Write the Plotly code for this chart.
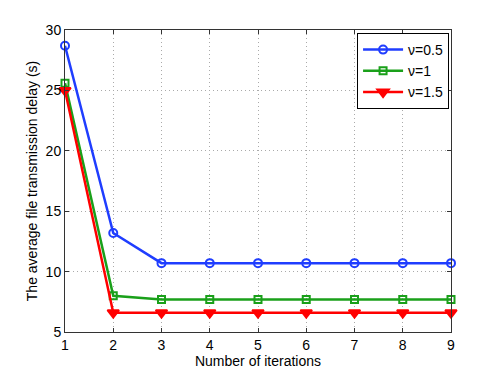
import plotly.graph_objects as go

iterations = [1, 2, 3, 4, 5, 6, 7, 8, 9]
delay_nu05 = [28.7, 13.2, 10.7, 10.7, 10.7, 10.7, 10.7, 10.7, 10.7]
delay_nu1 = [25.6, 8.0, 7.7, 7.7, 7.7, 7.7, 7.7, 7.7, 7.7]
delay_nu15 = [25.0, 6.6, 6.6, 6.6, 6.6, 6.6, 6.6, 6.6, 6.6]

series = [
    ("ν=0.5", delay_nu05, "#1f3dff", "circle-open", 8),
    ("ν=1", delay_nu1, "#1aa01a", "square-open", 7),
    ("ν=1.5", delay_nu15, "#ff0000", "triangle-down", 10),
]

fig = go.Figure()
for name, ys, color, sym, size in series:
    fig.add_trace(go.Scatter(
        x=iterations, y=ys, name=name, mode="lines+markers",
        line=dict(color=color, width=2.5),
        marker=dict(symbol=sym, size=size, color=color,
                    line=dict(color=color, width=2)),
        cliponaxis=False,
    ))

axis_common = dict(
    showline=True, linecolor="#333", linewidth=1, mirror="ticks",
    ticks="inside", ticklen=4, tickcolor="#333",
    showgrid=True, gridcolor="#aaaaaa", griddash="1px,3px", gridwidth=1,
    zeroline=False, tickfont=dict(size=14, color="black"), automargin=False,
)

fig.update_xaxes(range=[1, 9], dtick=1, title=dict(text="Number of iterations", font=dict(size=14), standoff=2),
                 **axis_common)
fig.update_yaxes(range=[5, 30], dtick=5, title=dict(text="The average file transmission delay (s)", font=dict(size=14), standoff=4),
                 **axis_common)

# the page adds an 8px body margin, so the figure is sized to fit the window
fig.update_layout(
    width=490, height=367,
    margin=dict(l=57, r=47, t=22, b=43),
    paper_bgcolor="white", plot_bgcolor="white",
    font=dict(family="Liberation Sans, Arial, sans-serif", color="black"),
    legend=dict(x=0.995, y=0.99, xanchor="right", yanchor="top",
                bordercolor="black", borderwidth=1, bgcolor="white",
                font=dict(size=14), itemwidth=40, tracegroupgap=0),
)

fig.write_html("out.html")
